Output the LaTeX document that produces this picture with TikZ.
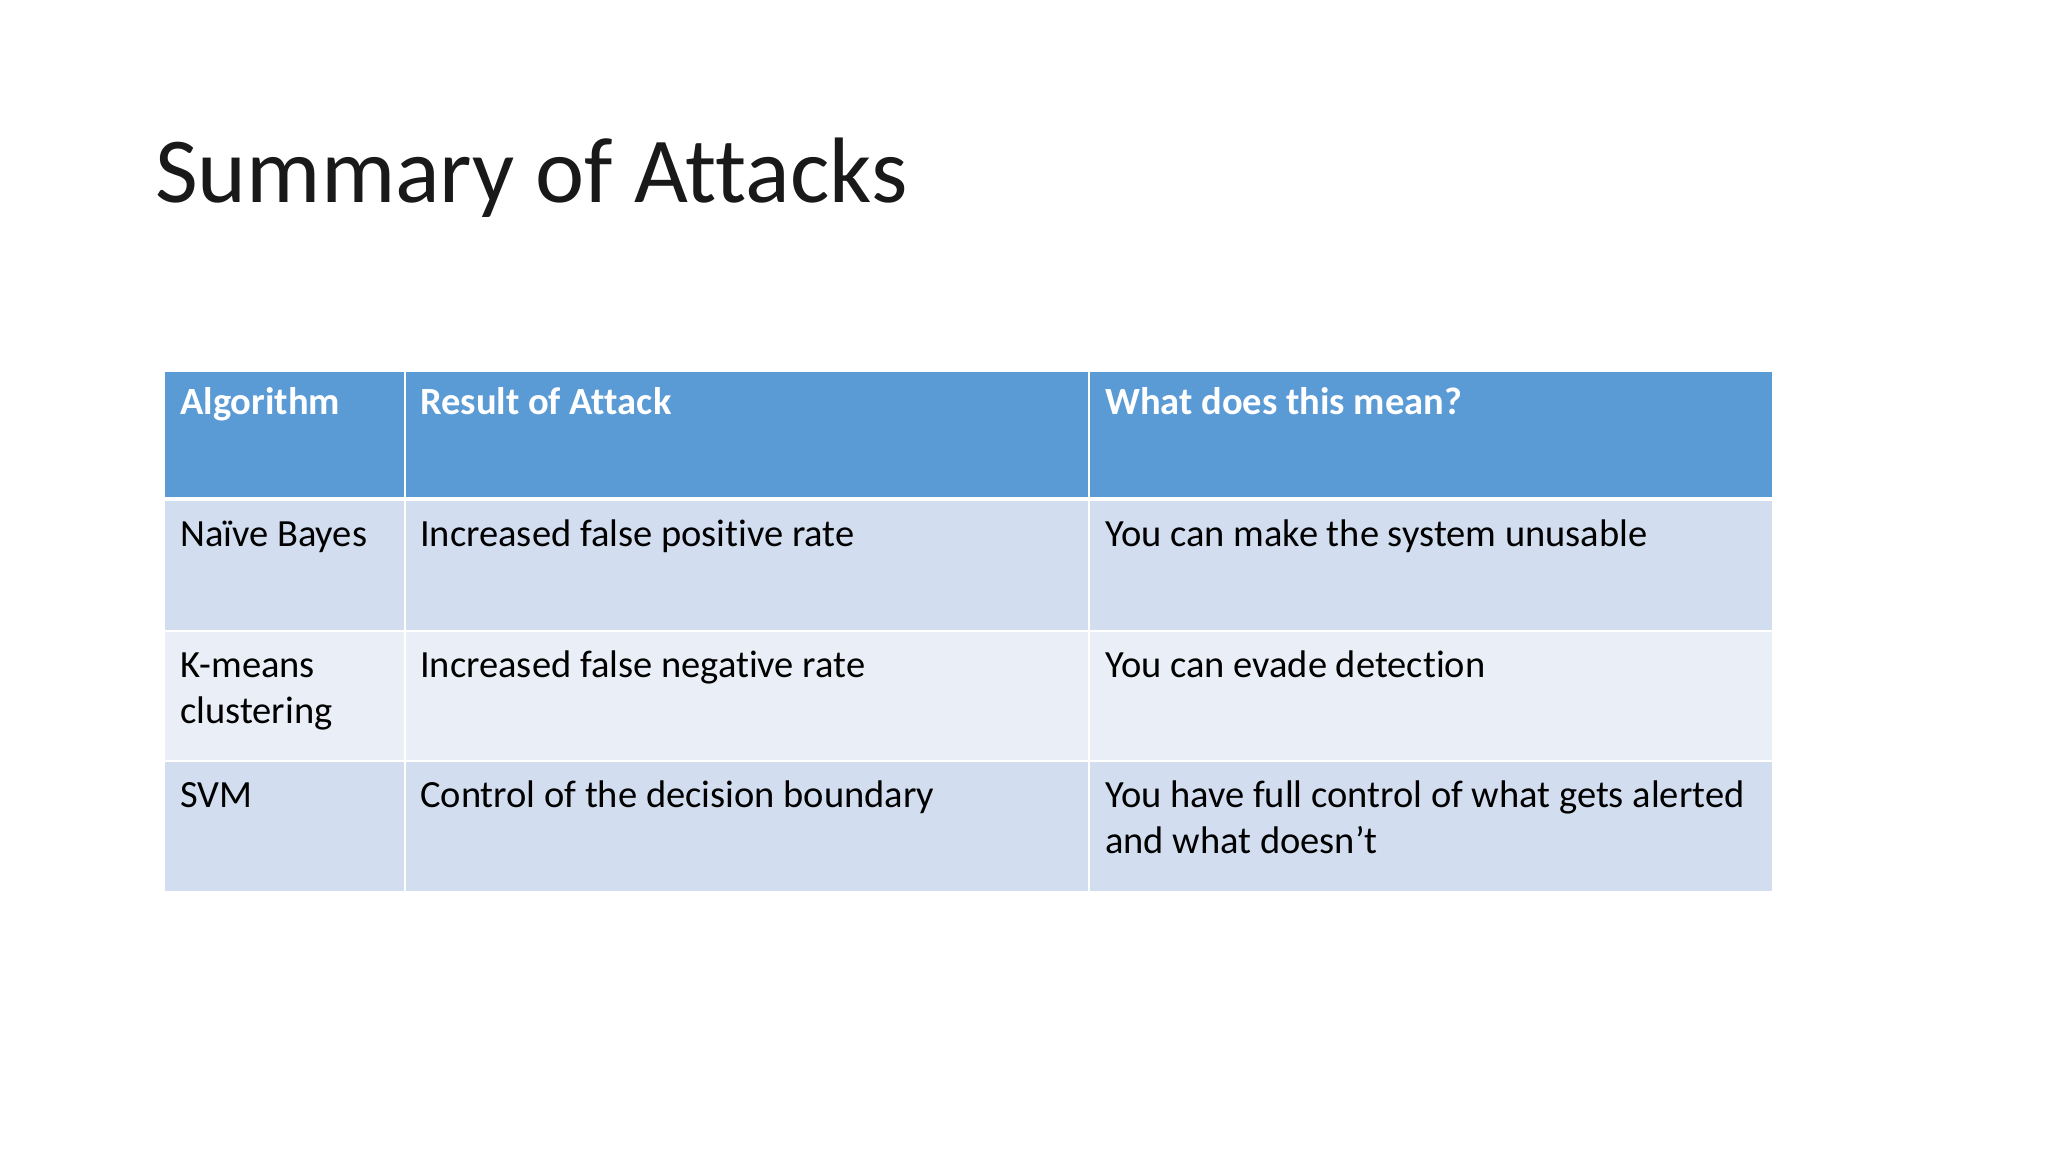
\documentclass[tikz,border=0pt]{standalone}
\usepackage{fontspec}
\setmainfont[Ligatures=NoCommon]{Carlito}
\definecolor{hdr}{HTML}{5B9BD5}
\definecolor{rowa}{HTML}{D2DEEF}
\definecolor{rowb}{HTML}{EAEFF7}
\begin{document}
\begin{tikzpicture}[x=1pt,y=-1pt,
  cell/.style={anchor=base west,inner sep=0pt,font=\fontsize{38.5}{46}\selectfont,align=left},
  hcell/.style={cell,text=white,font=\fontsize{38.5}{46}\selectfont\bfseries}]
\useasboundingbox[fill=white] (0,0) rectangle (2048,1152);
\node[anchor=base west,inner sep=0pt,font=\fontsize{93}{100}\selectfont,text=black!90] (title) at (155,202) {Summary of Attacks};
% backgrounds
\fill[hdr] (165,372) rectangle (1772,499);
\fill[rowa] (165,499) rectangle (1772,631);
\fill[rowb] (165,631) rectangle (1772,761);
\fill[rowa] (165,761) rectangle (1772,891);
% white grid lines
\draw[white,line width=4pt] (165,499) -- (1772,499);
\draw[white,line width=2pt] (165,631) -- (1772,631) (165,761) -- (1772,761);
\draw[white,line width=2pt] (405,372) -- (405,891) (1089,372) -- (1089,891);
% header
\node[hcell] (h1) at (180,414) {Algorithm};
\node[hcell] (h2) at (420,414) {Result of Attack};
\node[hcell] (h3) at (1105,414) {What does this mean?};
% rows
\node[cell] (a1) at (180,546) {Naïve Bayes};
\node[cell] (b1) at (420,546) {Increased false positive rate};
\node[cell] (c1) at (1105,546) {You can make the system unusable};
\node[cell] (a2) at (180,723) {K-means\\clustering};
\node[cell] (b2) at (420,677) {Increased false negative rate};
\node[cell] (c2) at (1105,677) {You can evade detection};
\node[cell] (a3) at (180,807) {SVM};
\node[cell] (b3) at (420,807) {Control of the decision boundary};
\node[cell] (c3) at (1105,853) {You have full control of what gets alerted\\and what doesn’t};
\end{tikzpicture}
\end{document}
